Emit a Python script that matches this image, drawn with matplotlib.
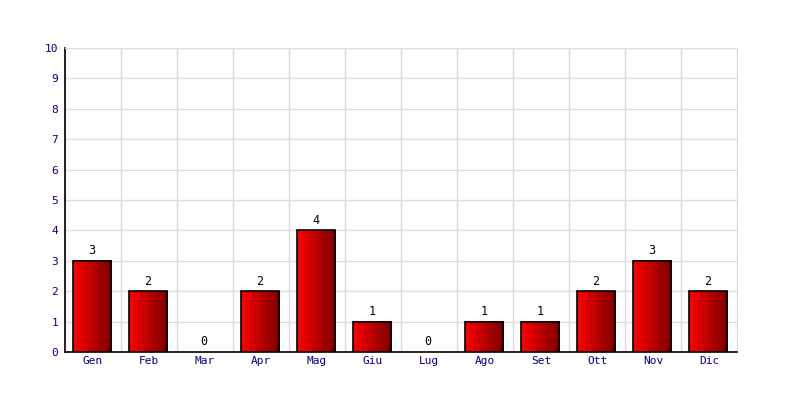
import numpy as np
import matplotlib.pyplot as plt
from matplotlib.colors import LinearSegmentedColormap
from matplotlib.patches import Rectangle

# Dati
mesi = ["Gen", "Feb", "Mar", "Apr", "Mag", "Giu", "Lug", "Ago", "Set", "Ott", "Nov", "Dic"]
valori = [3, 2, 0, 2, 4, 1, 0, 1, 1, 2, 3, 2]
y_ticks = list(range(0, 11))

plt.rcParams['font.family'] = ['DejaVu Sans Mono']

fig = plt.figure(figsize=(8, 4), dpi=100)
ax = fig.add_axes([0.08125, 0.12, 0.84, 0.76])

grad = LinearSegmentedColormap.from_list("rosso", ["#ff0000", "#7a0000"])
g = np.linspace(0, 1, 64).reshape(1, -1)

larg = 0.68
for i, v in enumerate(valori):
    if v > 0:
        x0 = i - 0.015 - larg / 2
        ax.imshow(g, cmap=grad, extent=[x0, x0 + larg, 0, v], aspect='auto', zorder=3)
        ax.add_patch(Rectangle((x0, 0), larg, v, fill=False, edgecolor="black", lw=1.2, zorder=4))
    ax.text(i - 0.015, v + 0.12, str(v), ha='center', va='bottom', fontsize=8.5, color="black", zorder=5)

ax.set_xlim(-0.5, len(mesi) - 0.5)
ax.set_ylim(0, 10)
ax.set_xticks(range(len(mesi)))
ax.set_xticklabels(mesi)
ax.set_xticks(np.arange(-0.5, len(mesi), 1), minor=True)
ax.set_yticks(y_ticks)
ax.tick_params(axis='both', which='both', length=0, labelsize=8, labelcolor="#000080")
ax.tick_params(axis='x', pad=3)
ax.tick_params(axis='y', pad=5)

ax.grid(True, which='minor', axis='x', color="#dddddd", lw=1, zorder=0)
ax.grid(True, which='major', axis='y', color="#dddddd", lw=1, zorder=0)
ax.set_axisbelow(True)

for s in ['top', 'right']:
    ax.spines[s].set_color("#dddddd")
for s in ['left', 'bottom']:
    ax.spines[s].set_color("black")
    ax.spines[s].set_linewidth(1.2)

fig.savefig("out.png", dpi=100)
